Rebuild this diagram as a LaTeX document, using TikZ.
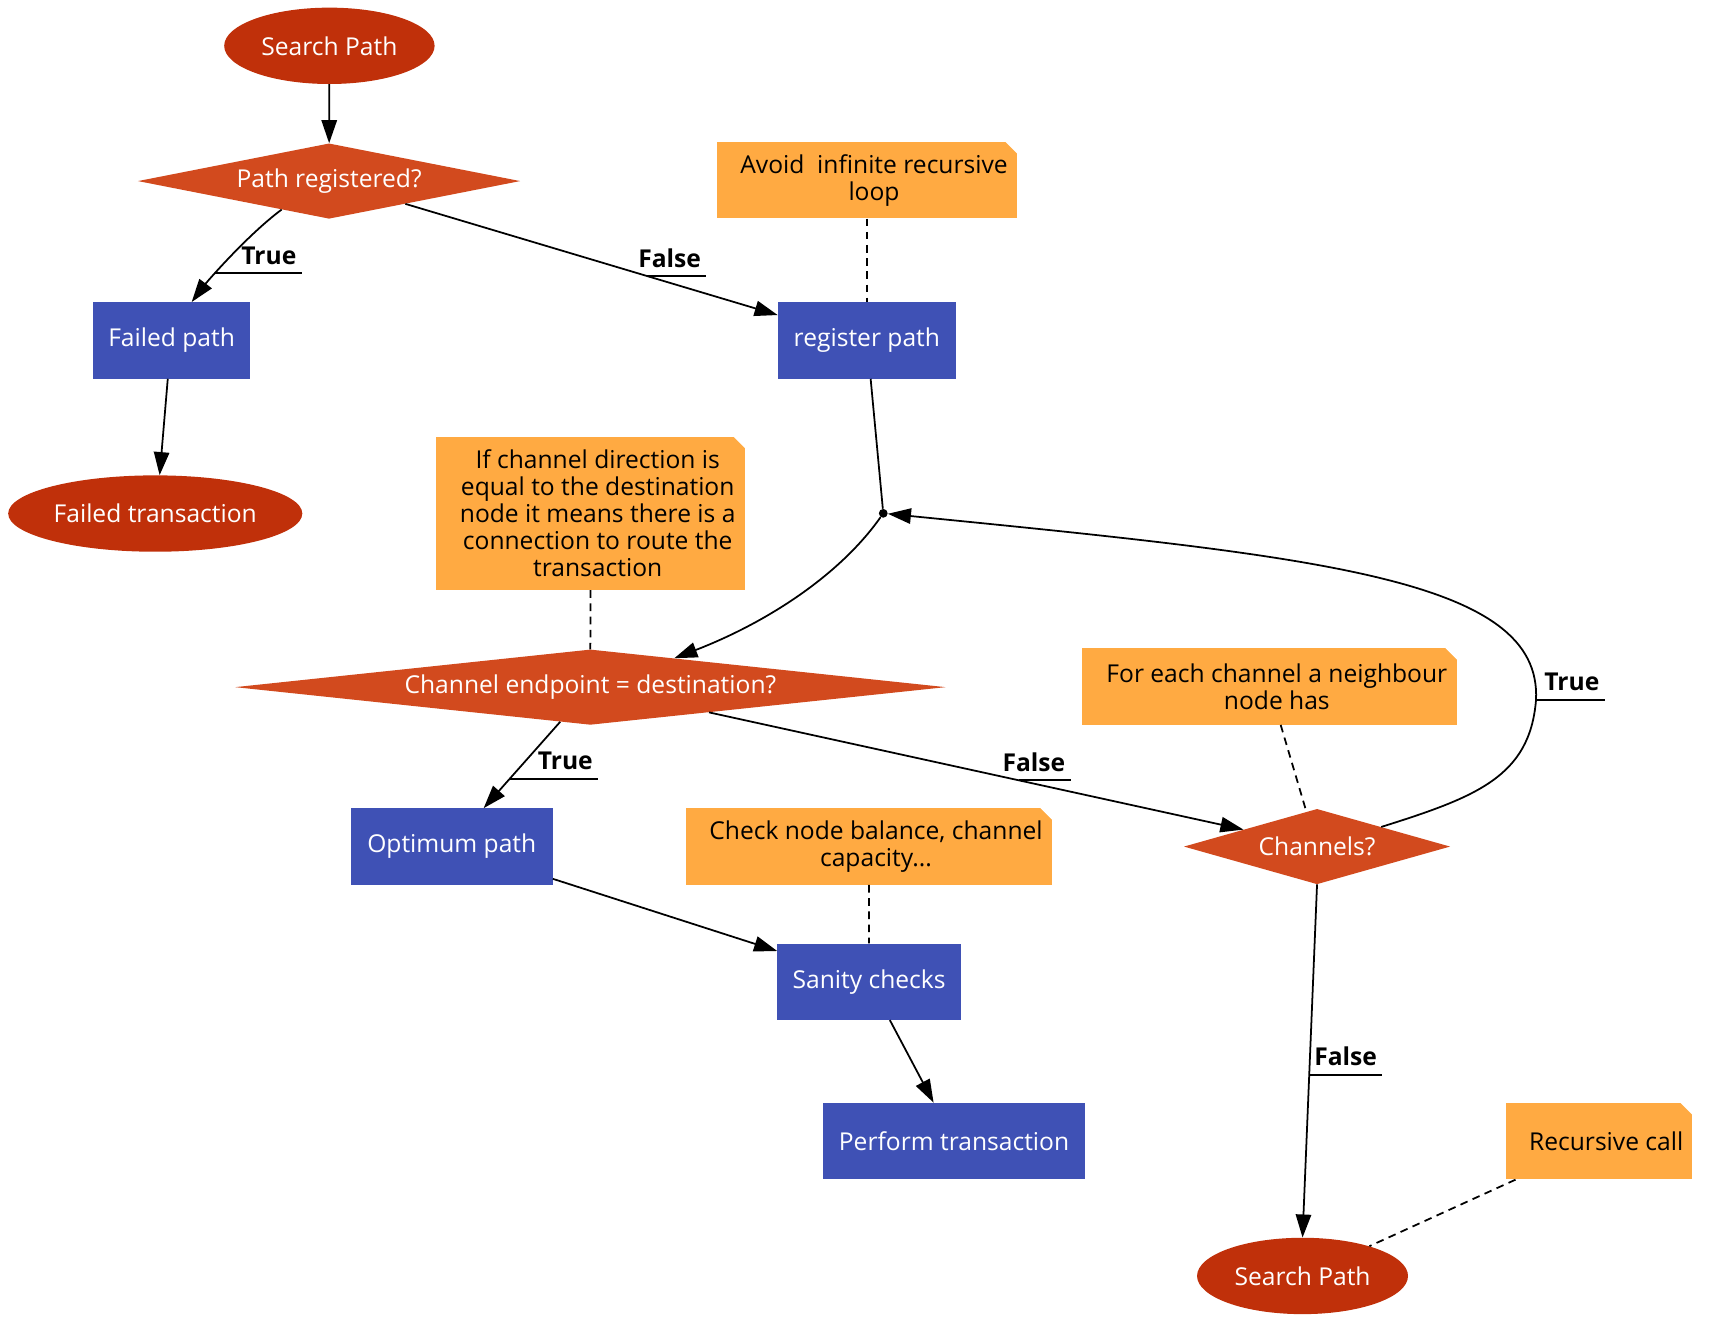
\documentclass[tikz,border=0pt]{standalone}
\usepackage{fontspec}
\setmainfont{Open Sans}
\usetikzlibrary{shapes.geometric,arrows.meta,calc}
\definecolor{termred}{HTML}{C0300A}
\definecolor{decred}{HTML}{D24A1E}
\definecolor{procblue}{HTML}{3F51B5}
\definecolor{noteorg}{HTML}{FFAA42}
\begin{document}
\begin{tikzpicture}[x=1pt,y=1pt,
  every node/.style={font=\fontsize{22.4}{24.5}\selectfont},
  term/.style={ellipse, fill=termred, text=white, inner sep=0pt, minimum height=69.5pt},
  decision/.style={diamond, fill=decred, text=white, inner sep=0pt, minimum height=68.5pt},
  proc/.style={rectangle, fill=procblue, text=white, inner sep=0pt, minimum height=69.5pt},
  notebox/.style={rectangle, fill=noteorg, inner sep=0pt, minimum height=69.5pt,
    path picture={\fill[white] ($(path picture bounding box.north east)+(-11,0.5)$) -- ($(path picture bounding box.north east)+(0.5,0.5)$) -- ($(path picture bounding box.north east)+(0.5,-11)$) -- cycle;}},
  notetext/.style={text=black, align=center, inner sep=0pt},
  arr/.style={draw, line width=1.6pt, -{Triangle[length=21pt,width=14pt]}},
  link/.style={draw, line width=1.6pt},
  dashlink/.style={draw, line width=1.6pt, dash pattern=on 7pt off 5pt},
  lbl/.style={font=\bfseries\fontsize{22.4}{24.5}\selectfont, inner xsep=5pt, inner ysep=8pt, outer sep=0pt, anchor=south east},
]
\useasboundingbox (0,0) rectangle (1560,-1216);

% nodes
\node[term, minimum width=191.5pt] (sp1) at (299.8,-41.7) {Search Path};
\node[decision, aspect=5.1, minimum width=348pt] (pr) at (299.5,-164.8) {Path registered?};
\node[proc, minimum width=143.3pt] (fp) at (156.2,-309.8) {Failed path};
\node[proc, minimum width=162pt] (rp) at (789,-309.8) {register path};
\node[notebox, minimum width=273.6pt] (n1) at (789,-164) {};
\node[notetext] (n1t) at ([xshift=6.5pt]n1.center) {Avoid~ infinite recursive\\loop};
\node[term, minimum width=267.7pt] (ft) at (141.3,-467.4) {Failed transaction};
\node[circle, fill=black, inner sep=0pt, minimum size=8pt] (dot) at (803.9,-467.2) {};
\node[notebox, minimum width=281pt, minimum height=139.6pt] (n2) at (537.5,-467.2) {};
\node[notetext] (n2t) at ([xshift=6.5pt]n2.center) {If channel direction is\\equal to the destination\\node it means there is a\\connection to route the\\transaction};
\node[decision, aspect=9.45, minimum width=646.8pt] (cd) at (537.3,-625.4) {Channel endpoint = destination?};
\node[proc, minimum width=183.6pt] (op) at (411.2,-770.5) {Optimum path};
\node[notebox, minimum width=341.2pt] (n3) at (1155.6,-624.8) {};
\node[notetext] (n3t) at ([xshift=6.5pt]n3.center) {For each channel a neighbour\\node has};
\node[decision, aspect=3.5, minimum width=242.3pt] (ch) at (1198.7,-770.5) {Channels?};
\node[notebox, minimum width=333.7pt] (n4) at (790.8,-770.5) {};
\node[notetext] (n4t) at ([xshift=6.5pt]n4.center) {Check node balance, channel\\capacity...};
\node[proc, minimum width=167pt] (sc) at (791,-893.5) {Sanity checks};
\node[proc, minimum width=239.3pt] (pt) at (868.3,-1038.5) {Perform transaction};
\node[term, minimum width=192pt] (sp2) at (1185.5,-1161.3) {Search Path};
\node[notebox, minimum width=169.7pt] (n5) at (1455.4,-1038.7) {};
\node[notetext] (n5t) at ([xshift=6.5pt]n5.center) {Recursive call};

% connectors
\draw[arr] (sp1) -- (pr);
\draw[arr] (pr.211) .. controls (225,-214) and (188,-257) .. coordinate[pos=0.65] (t1) ($(fp.north)+(18.3,0)$);
\draw[arr] (pr) -- coordinate[pos=0.65] (f1) ($(rp.north west)!0.17!(rp.south west)$);
\draw[arr] ($(fp.south)+(-3.5,0)$) -- ($(ft.north)+(4,0)$);
\draw[link] ($(rp.south)+(3.4,0)$) -- (dot);
\draw[arr] (dot) .. controls (764,-524) and (697,-567) .. (cd.19);
\draw[arr] (cd.229) -- coordinate[pos=0.66] (t2) ($(op.north)+(29,0)$);
\draw[arr] (cd.-12) -- coordinate[pos=0.58] (f2) (ch.167);
\draw[arr] (ch.south) -- coordinate[pos=0.539] (f3) (sp2.north);
\draw[arr] (ch.17) .. controls (1343.5,-725.4) and (1392.4,-707) .. (1398,-637) coordinate (t3)
  .. controls (1403.5,-527) and (1204,-507) .. (dot);
\draw[arr] ($(op.south east)!0.08!(op.north east)$) -- ($(sc.north west)!0.1!(sc.south west)$);
\draw[arr] ($(sc.south)+(18.9,0)$) -- ($(pt.north)+(-18.6,0)$);

% note links
\draw[dashlink] (n1.south) -- (rp.north);
\draw[dashlink] (n2.south) -- (cd.north);
\draw[dashlink] ($(n3.south)+(10,0)$) -- (ch.107);
\draw[dashlink] (n4.south) -- (sc.north);
\draw[dashlink] ($(n5.south west)+(9,0)$) -- (sp2.24);

% edge labels
\path (t1) ++(78.6,0) coordinate (t1e);
\node[lbl] (l1) at (t1e) {True};
\draw[link] (t1) -- (l1.south east);
\path (f1) ++(53.8,0) coordinate (f1e);
\node[lbl] (l2) at (f1e) {False};
\draw[link] (f1) -- (l2.south east);
\path (t2) ++(80.6,0) coordinate (t2e);
\node[lbl] (l3) at (t2e) {True};
\draw[link] (t2) -- (l3.south east);
\path (f2) ++(47,0) coordinate (f2e);
\node[lbl] (l4) at (f2e) {False};
\draw[link] (f2) -- (l4.south east);
\path (f3) ++(66.6,0) coordinate (f3e);
\node[lbl] (l5) at (f3e) {False};
\draw[link] (f3) -- (l5.south east);
\path (t3) ++(62.6,0) coordinate (t3e);
\node[lbl] (l6) at (t3e) {True};
\draw[link] (t3) -- (l6.south east);
\end{tikzpicture}
\end{document}
